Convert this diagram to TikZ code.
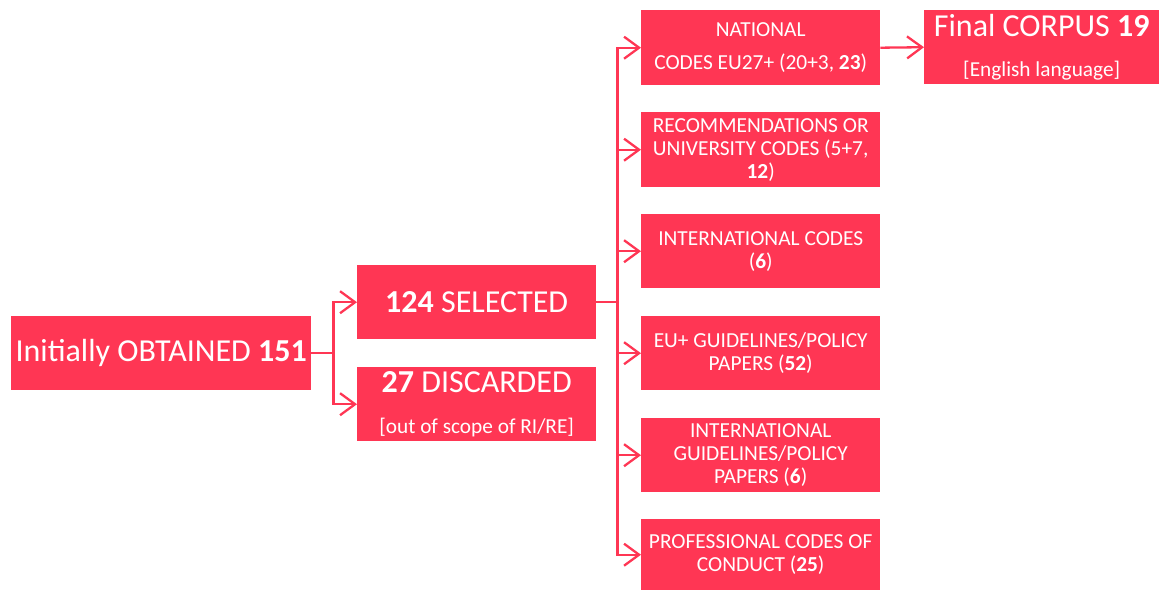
\documentclass[tikz,border=0pt]{standalone}
\usepackage{fontspec}
\setmainfont{Carlito}
\usetikzlibrary{arrows.meta}
\definecolor{boxred}{RGB}{255,54,84}
\newcommand{\bigsz}{\fontsize{32}{38}\selectfont}
\newcommand{\notesz}{\fontsize{21.3}{25}\selectfont}
\begin{document}
\begin{tikzpicture}[x=1pt,y=-1pt,
  box/.style={fill=boxred,text=white,inner sep=0pt,align=center,anchor=north west},
  bigtext/.style={font=\bigsz},
  smalltext/.style={font=\fontsize{21.4}{23}\selectfont},
  conn/.style={draw=boxred,line width=2.3pt},
  arr/.style={conn,-{Straight Barb[length=15pt,width=22pt,line width=2.3pt]}}
]
\useasboundingbox (0,0) rectangle (1159,590);

% first stage
\node[box,bigtext,minimum width=300pt,minimum height=74pt] (obt) at (11,316)
  {Initially OBTAINED \textbf{151}};

% second stage
\node[box,bigtext,minimum width=239pt,minimum height=74pt] (sel) at (357,265)
  {\textbf{124} SELECTED};
\node[box,minimum width=239pt,minimum height=74pt] (dis) at (357,367)
  {{\bigsz\textbf{27} DISCARDED}\\[24pt]
   {\notesz [out of scope of RI/RE]}};

% categories of the selected documents
\node[box,smalltext,minimum width=239pt,minimum height=75pt] (c1) at (641,10)
  {NATIONAL\\[10pt] CODES EU27+ (20+3, \textbf{23})};
\node[box,smalltext,minimum width=239pt,minimum height=75pt] (c2) at (641,112)
  {RECOMMENDATIONS OR\\ UNIVERSITY CODES (5+7,\\ \textbf{12})};
\node[box,smalltext,minimum width=239pt,minimum height=74pt] (c3) at (641,214)
  {INTERNATIONAL CODES\\ (\textbf{6})};
\node[box,smalltext,minimum width=239pt,minimum height=74pt] (c4) at (641,316)
  {EU+ GUIDELINES/POLICY\\ PAPERS (\textbf{52})};
\node[box,smalltext,minimum width=239pt,minimum height=74pt] (c5) at (641,418)
  {INTERNATIONAL\\ GUIDELINES/POLICY\\ PAPERS (\textbf{6})};
\node[box,smalltext,minimum width=239pt,minimum height=71pt] (c6) at (641,519)
  {PROFESSIONAL CODES OF\\ CONDUCT (\textbf{25})};

% final corpus
\node[box,minimum width=235pt,minimum height=74pt] (fin) at (924,10)
  {{\bigsz Final CORPUS \textbf{19}}\\[23pt]
   {\notesz [English language]}};

% connectors
\draw[conn] (obt.east) -- ++(22,0) coordinate (j1);
\draw[arr] (j1) |- (sel.west);
\draw[arr] (j1) |- (dis.west);

\draw[conn] (sel.east) -- ++(21,0) coordinate (j2);
\foreach \c in {c1,c2,c3,c4,c5,c6}
  \draw[arr] (j2) |- (\c.west);

\draw[arr] (c1.east) -- (fin.west);
\end{tikzpicture}
\end{document}
